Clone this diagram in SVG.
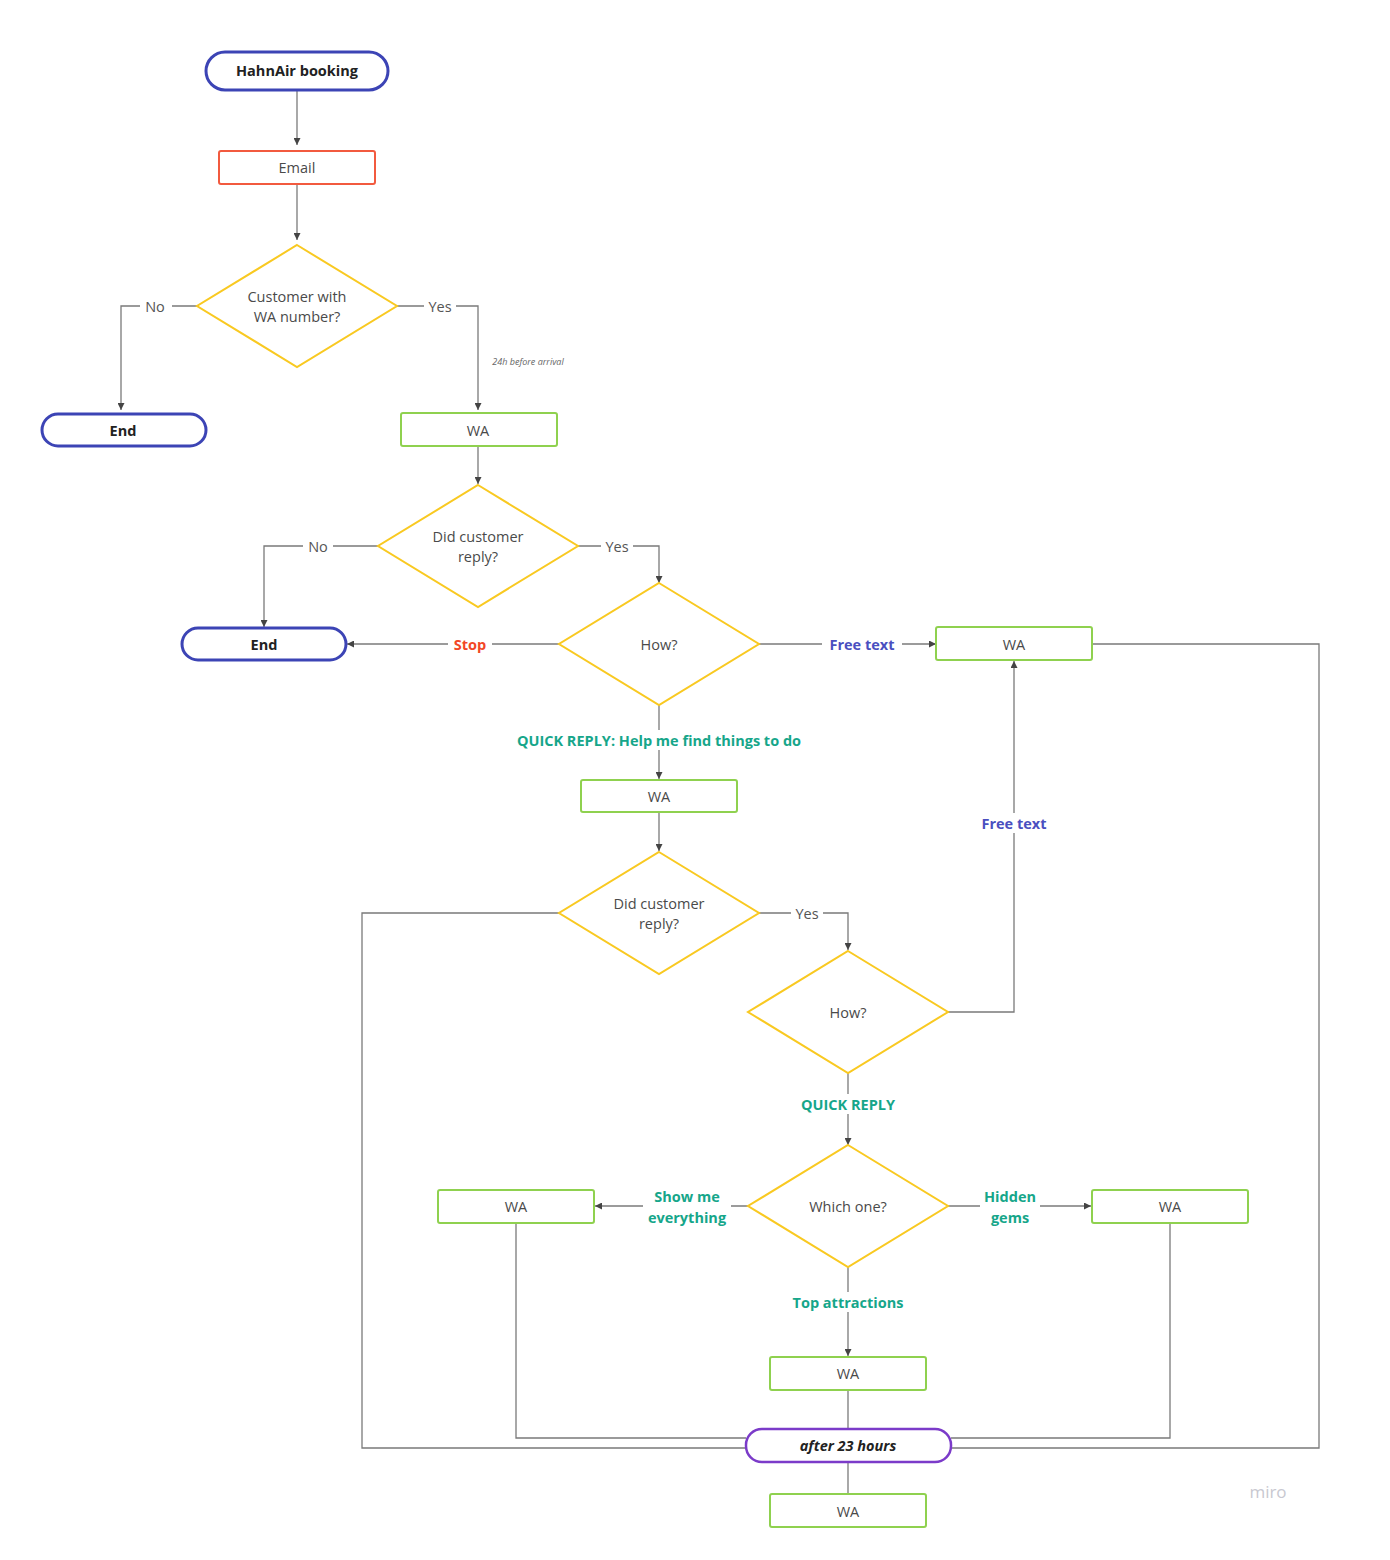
<svg xmlns="http://www.w3.org/2000/svg" width="1390" height="1560" viewBox="0 0 1390 1560">
<defs>
<marker id="ah" viewBox="0 0 10 10" refX="10" refY="5" markerWidth="7" markerHeight="7" markerUnits="userSpaceOnUse" orient="auto">
<path d="M0,0 L10,5 L0,10 z" fill="#444"/>
</marker>
</defs>
<style>
text{font-family:"Open Sans","Noto Sans","Liberation Sans",sans-serif;font-size:14.5px;fill:#4a4a4a;text-anchor:middle;dominant-baseline:central}
.pill{fill:#fff;stroke:#3c44b5;stroke-width:3}
.pill2{fill:#fff;stroke:#7b3bc9;stroke-width:2.5}
.email{fill:#fff;stroke:#f25a3f;stroke-width:2}
.wa{fill:#fff;stroke:#8fd14f;stroke-width:2}
.dia{fill:#fff;stroke:#f9c921;stroke-width:2}
.b{font-weight:bold;fill:#222}
.c{fill:none;stroke:#7a7a7a;stroke-width:1.3}
.ca{fill:none;stroke:#7a7a7a;stroke-width:1.3;marker-end:url(#ah)}
.lbl{fill:#555}
.teal{fill:#16a68a;font-weight:bold}
.blue{fill:#4a4fc0;font-weight:bold}
.red{fill:#f24726;font-weight:bold}
.lb{fill:#fff;stroke:none}
</style>
<g id="connectors">
<path class="ca" d="M297,90 V145"/>
<path class="ca" d="M297,184 V240"/>
<path class="ca" d="M197,306 H121 V410"/>
<path class="ca" d="M397,306 H478 V410"/>
<path class="ca" d="M478,446 V484"/>
<path class="ca" d="M378,546 H264 V627"/>
<path class="ca" d="M578,546 H659 V583"/>
<path class="ca" d="M559,644 H347"/>
<path class="ca" d="M759,644 H936"/>
<path class="c" d="M1092,644 H1319 V1448 H951"/>
<path class="ca" d="M659,705 V779"/>
<path class="ca" d="M659,812 V851"/>
<path class="c" d="M559,913 H362 V1448 H746"/>
<path class="ca" d="M759,913 H848 V950"/>
<path class="ca" d="M948,1012 H1014 V661"/>
<path class="ca" d="M848,1073 V1145"/>
<path class="ca" d="M748,1206 H595"/>
<path class="ca" d="M948,1206 H1091"/>
<path class="ca" d="M848,1267 V1356"/>
<path class="c" d="M848,1390 V1428"/>
<path class="c" d="M516,1223 V1438 H746"/>
<path class="c" d="M1170,1223 V1438 H951"/>
<path class="c" d="M848,1462 V1494"/>
<rect class="lb" x="140" y="296" width="32" height="20"/>
<text class="lbl" x="155" y="306">No</text>
<rect class="lb" x="424" y="296" width="32" height="20"/>
<text class="lbl" x="440" y="306">Yes</text>
<text x="528" y="361" style="font-size:9px;font-style:italic;fill:#666">24h before arrival</text>
<rect class="lb" x="303" y="536" width="30" height="20"/>
<text class="lbl" x="318" y="546">No</text>
<rect class="lb" x="601" y="536" width="32" height="20"/>
<text class="lbl" x="617" y="546">Yes</text>
<rect class="lb" x="448" y="634" width="44" height="20"/>
<text class="red" x="470" y="644">Stop</text>
<rect class="lb" x="822" y="634" width="80" height="20"/>
<text class="blue" x="862" y="644">Free text</text>
<rect class="lb" x="510" y="730" width="298" height="20"/>
<text class="teal" x="659" y="740">QUICK REPLY: Help me find things to do</text>
<rect class="lb" x="791" y="903" width="32" height="20"/>
<text class="lbl" x="807" y="913">Yes</text>
<rect class="lb" x="974" y="813" width="80" height="20"/>
<text class="blue" x="1014" y="823">Free text</text>
<rect class="lb" x="796" y="1094" width="104" height="20"/>
<text class="teal" x="848" y="1104">QUICK REPLY</text>
<rect class="lb" x="643" y="1184" width="88" height="44"/>
<text class="teal" x="687" y="1196">Show me</text>
<text class="teal" x="687" y="1217">everything</text>
<rect class="lb" x="980" y="1184" width="60" height="44"/>
<text class="teal" x="1010" y="1196">Hidden</text>
<text class="teal" x="1010" y="1217">gems</text>
<rect class="lb" x="788" y="1292" width="120" height="20"/>
<text class="teal" x="848" y="1302">Top attractions</text>
</g>
<g id="n-hahnair"><rect class="pill" x="206" y="52" width="182" height="38" rx="19"/><text class="b" x="297" y="70">HahnAir booking</text></g>
<g id="n-email"><rect class="email" x="219" y="151" width="156" height="33" rx="2"/><text x="297" y="167">Email</text></g>
<g id="n-d1"><polygon class="dia" points="297,245 397,306 297,367 197,306"/><text x="297" y="296">Customer with</text><text x="297" y="316">WA number?</text></g>
<g id="n-end1"><rect class="pill" x="42" y="414" width="164" height="32" rx="16"/><text class="b" x="123" y="430">End</text></g>
<g id="n-wa1"><rect class="wa" x="401" y="413" width="156" height="33" rx="2"/><text x="478" y="430">WA</text></g>
<g id="n-d2"><polygon class="dia" points="478,485 578,546 478,607 378,546"/><text x="478" y="536">Did customer</text><text x="478" y="556">reply?</text></g>
<g id="n-end2"><rect class="pill" x="182" y="628" width="164" height="32" rx="16"/><text class="b" x="264" y="644">End</text></g>
<g id="n-how1"><polygon class="dia" points="659,583 759,644 659,705 559,644"/><text x="659" y="644">How?</text></g>
<g id="n-wa2"><rect class="wa" x="936" y="627" width="156" height="33" rx="2"/><text x="1014" y="644">WA</text></g>
<g id="n-wa3"><rect class="wa" x="581" y="780" width="156" height="32" rx="2"/><text x="659" y="796">WA</text></g>
<g id="n-d4"><polygon class="dia" points="659,852 759,913 659,974 559,913"/><text x="659" y="903">Did customer</text><text x="659" y="923">reply?</text></g>
<g id="n-how2"><polygon class="dia" points="848,951 948,1012 848,1073 748,1012"/><text x="848" y="1012">How?</text></g>
<g id="n-which"><polygon class="dia" points="848,1145 948,1206 848,1267 748,1206"/><text x="848" y="1206">Which one?</text></g>
<g id="n-wa4"><rect class="wa" x="438" y="1190" width="156" height="33" rx="2"/><text x="516" y="1206">WA</text></g>
<g id="n-wa5"><rect class="wa" x="1092" y="1190" width="156" height="33" rx="2"/><text x="1170" y="1206">WA</text></g>
<g id="n-wa6"><rect class="wa" x="770" y="1357" width="156" height="33" rx="2"/><text x="848" y="1373">WA</text></g>
<g id="n-after"><rect class="pill2" x="746" y="1429" width="205" height="33" rx="16"/><text class="b" x="848" y="1445" style="font-style:italic">after 23 hours</text></g>
<g id="n-wa7"><rect class="wa" x="770" y="1494" width="156" height="33" rx="2"/><text x="848" y="1511">WA</text></g>
<text x="1268" y="1491" style="font-size:17px;fill:#c8c8d0">miro</text>
</svg>
